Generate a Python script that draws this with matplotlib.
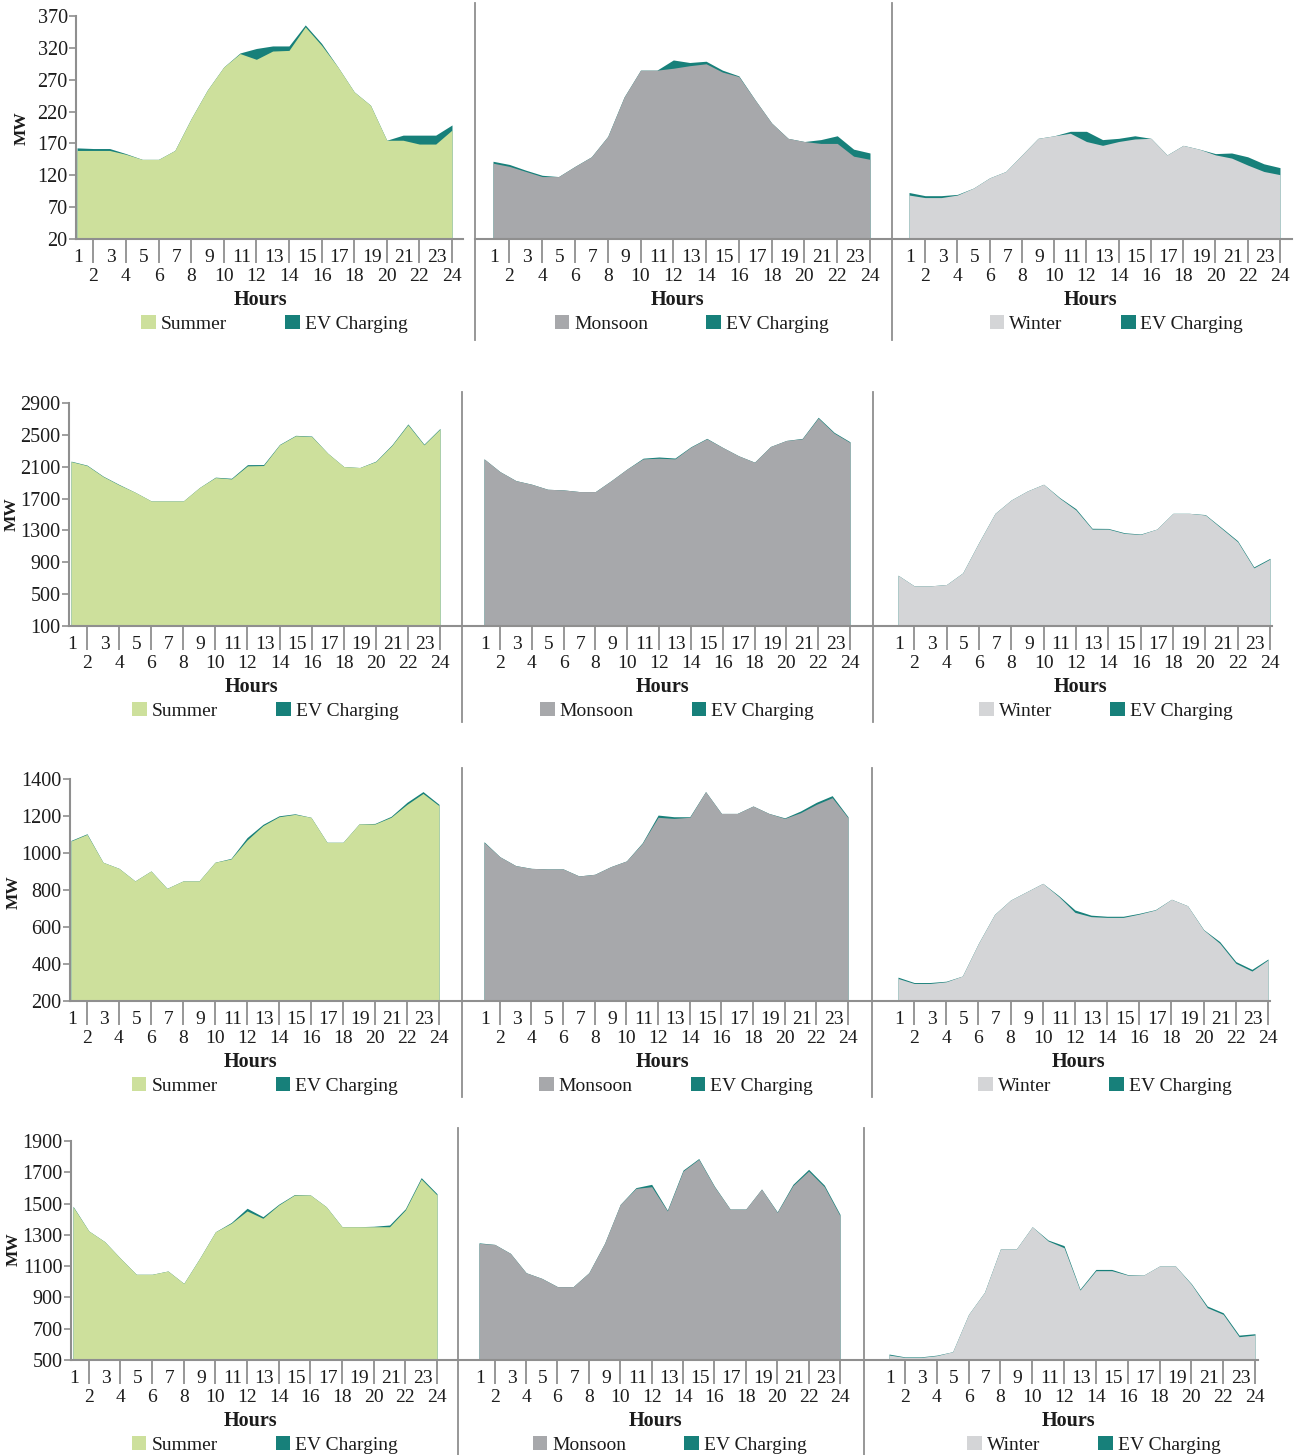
import numpy as np
import matplotlib
matplotlib.use("Agg")
import matplotlib.pyplot as plt
from matplotlib.patches import Patch
from matplotlib.lines import Line2D

# ---- data (MW per hour) ----
hours = list(range(1, 25))
seasons = ["Summer", "Monsoon", "Winter"]

# row 1
summer_1 = [159, 159, 159, 153, 145, 145, 159, 209, 254, 290, 311, 302, 315, 316, 353, 324, 290, 251, 230, 175, 175, 169, 169, 191]
summer_1_ev = [4, 3, 3, 1, 0, 0, 0, 0, 0, 0, 1, 17, 8, 7, 3, 3, 0, 0, 0, 0, 8, 14, 14, 8]
monsoon_1 = [139, 134, 126, 118, 118, 134, 149, 181, 243, 285, 285, 288, 292, 295, 282, 275, 238, 202, 178, 173, 170, 170, 150, 145]
monsoon_1_ev = [3, 3, 2, 2, 0, 0, 0, 0, 0, 0, 0, 13, 5, 4, 3, 1, 0, 0, 0, 0, 6, 12, 11, 10]
winter_1 = [89, 85, 85, 89, 100, 116, 126, 152, 178, 182, 186, 173, 167, 173, 177, 178, 152, 167, 161, 152, 147, 136, 126, 121]
winter_1_ev = [4, 3, 3, 1, 0, 0, 0, 0, 0, 0, 3, 16, 9, 5, 5, 0, 0, 0, 0, 2, 8, 13, 12, 11]
yticks_1 = [20, 70, 120, 170, 220, 270, 320, 370]

# row 2
summer_2 = [2165, 2115, 1977, 1872, 1779, 1670, 1670, 1670, 1838, 1964, 1947, 2111, 2115, 2375, 2489, 2480, 2270, 2102, 2090, 2165, 2367, 2627, 2375, 2573]
summer_2_ev = [5, 5, 5, 5, 0, 0, 0, 0, 0, 5, 8, 15, 12, 5, 5, 5, 0, 0, 0, 5, 8, 10, 8, 8]
monsoon_2 = [2199, 2039, 1926, 1880, 1817, 1809, 1788, 1788, 1926, 2073, 2199, 2207, 2199, 2346, 2451, 2342, 2237, 2157, 2354, 2430, 2451, 2711, 2522, 2405]
monsoon_2_ev = [0, 0, 0, 0, 0, 0, 0, 0, 0, 0, 8, 15, 10, 5, 5, 0, 0, 0, 0, 0, 5, 10, 10, 8]
winter_2 = [738, 604, 604, 621, 767, 1150, 1515, 1683, 1796, 1880, 1704, 1557, 1317, 1317, 1263, 1250, 1317, 1515, 1515, 1494, 1326, 1158, 830, 940]
winter_2_ev = [0, 0, 0, 0, 0, 0, 0, 0, 0, 0, 8, 15, 10, 8, 8, 5, 0, 0, 0, 5, 10, 12, 12, 10]
yticks_2 = [100, 500, 900, 1300, 1700, 2100, 2500, 2900]

# row 3
summer_3 = [1065, 1101, 950, 917, 849, 903, 809, 849, 849, 950, 968, 1070, 1148, 1196, 1209, 1193, 1058, 1058, 1157, 1157, 1193, 1263, 1322, 1256]
summer_3_ev = [3, 3, 0, 0, 0, 0, 0, 0, 0, 0, 3, 13, 7, 5, 3, 0, 0, 0, 0, 3, 5, 11, 10, 7]
monsoon_3 = [1058, 980, 932, 917, 914, 914, 876, 885, 926, 957, 1052, 1193, 1187, 1193, 1332, 1214, 1214, 1254, 1214, 1187, 1218, 1263, 1299, 1191]
monsoon_3_ev = [3, 0, 0, 0, 0, 0, 0, 0, 0, 0, 3, 12, 9, 3, 0, 0, 0, 0, 0, 3, 9, 11, 11, 5]
winter_3 = [322, 295, 295, 304, 335, 512, 668, 746, 791, 836, 764, 679, 656, 652, 652, 670, 692, 750, 715, 584, 512, 404, 362, 422]
winter_3_ev = [7, 5, 5, 3, 0, 0, 0, 0, 0, 0, 5, 13, 8, 6, 6, 4, 2, 0, 0, 2, 9, 9, 9, 5]
yticks_3 = [200, 400, 600, 800, 1000, 1200, 1400]

# row 4
summer_4 = [1480, 1325, 1257, 1150, 1048, 1048, 1069, 990, 1150, 1320, 1374, 1453, 1406, 1491, 1555, 1555, 1480, 1352, 1352, 1352, 1352, 1459, 1657, 1555]
summer_4_ev = [3, 0, 0, 0, 0, 0, 0, 0, 0, 0, 5, 17, 10, 5, 3, 0, 0, 0, 0, 3, 11, 8, 9, 8]
monsoon_4 = [1246, 1239, 1182, 1058, 1022, 969, 969, 1058, 1246, 1495, 1597, 1608, 1453, 1708, 1783, 1608, 1465, 1465, 1593, 1444, 1615, 1708, 1608, 1423]
monsoon_4_ev = [3, 0, 0, 0, 0, 0, 0, 0, 0, 0, 5, 15, 5, 6, 5, 3, 0, 0, 0, 3, 8, 11, 10, 8]
winter_4 = [532, 517, 517, 528, 553, 792, 933, 1210, 1210, 1352, 1261, 1218, 947, 1071, 1071, 1043, 1043, 1101, 1101, 984, 835, 792, 649, 660]
winter_4_ev = [6, 3, 3, 3, 0, 0, 0, 0, 0, 0, 6, 13, 6, 8, 8, 3, 0, 0, 0, 4, 10, 10, 10, 8]
yticks_4 = [500, 700, 900, 1100, 1300, 1500, 1700, 1900]

# ---- styles / layout (pixels) ----
W, H = 1306, 1455
COLORS = {"Summer": "#cde09c", "Monsoon": "#a7a8ab", "Winter": "#d4d5d7"}
TEAL = "#17807a"
GRAY = "#8f8f8f"
TXT = "#1c1c1c"
FONT = "Liberation Serif"
LEG_OFF = {"Summer": 10, "Monsoon": 10, "Winter": 22}

rows = [
    dict(series=[(summer_1, summer_1_ev), (monsoon_1, monsoon_1_ev), (winter_1, winter_1_ev)],
         yticks=yticks_1, top=16, bot=239,
         panels=[(76, 77, 452, 463), (475, 493, 870, 890), (892, 909, 1280, 1292)],
         seps=(475, 892), sep_y=(3, 340), mw=(22, 128)),
    dict(series=[(summer_2, summer_2_ev), (monsoon_2, monsoon_2_ev), (winter_2, winter_2_ev)],
         yticks=yticks_2, top=403, bot=626,
         panels=[(69, 71, 440, 462), (462, 484, 850, 873), (873, 898, 1270, 1272)],
         seps=(462, 873), sep_y=(392, 722), mw=(12, 514)),
    dict(series=[(summer_3, summer_3_ev), (monsoon_3, monsoon_3_ev), (winter_3, winter_3_ev)],
         yticks=yticks_3, top=779, bot=1001,
         panels=[(70, 71, 439, 462), (462, 484, 848, 872), (872, 898, 1268, 1270)],
         seps=(462, 872), sep_y=(768, 1097), mw=(14, 892)),
    dict(series=[(summer_4, summer_4_ev), (monsoon_4, monsoon_4_ev), (winter_4, winter_4_ev)],
         yticks=yticks_4, top=1141, bot=1360,
         panels=[(71, 73, 437, 458), (458, 479, 840, 864), (864, 889, 1255, 1258)],
         seps=(458, 864), sep_y=(1128, 1455), mw=(14, 1249)),
]

plt.rcParams["font.family"] = [FONT, "DejaVu Serif"]
fig = plt.figure(figsize=(W / 100, H / 100), dpi=100)


def px_x(x):
    return x / W


def px_y(y):
    return 1 - y / H


for row in rows:
    ymin, ymax = row["yticks"][0], row["yticks"][-1]
    for col, (season, (base, ev), (xl, xh1, xh24, xr)) in enumerate(zip(seasons, row["series"], row["panels"])):
        ax = fig.add_axes([px_x(xl), px_y(row["bot"]), (xr - xl) / W, (row["bot"] - row["top"]) / H])
        step = (xh24 - xh1) / 23
        ax.set_xlim(1 - (xh1 - xl) / step, 24 + (xr - xh24) / step)
        ax.set_ylim(ymin, ymax)

        # EV charging drawn behind the seasonal load, so only the extra shows
        total = np.add(base, ev)
        ax.fill_between(hours, ymin, total, color=TEAL, lw=0)
        ax.fill_between(hours, ymin, base, color=COLORS[season], lw=0)

        for s in ["top", "right"]:
            ax.spines[s].set_visible(False)
        ax.spines["bottom"].set_color(GRAY)
        ax.spines["bottom"].set_linewidth(1.5)
        ax.spines["bottom"].set_zorder(5)

        ax.set_xticks(range(2, 25, 2))
        ax.tick_params(axis="x", length=17, width=1.3, color=GRAY, labelbottom=False)
        for h in hours:
            dy = -13 if h % 2 else -27
            ax.annotate(str(h), xy=(h, 0), xycoords=("data", "axes fraction"),
                        xytext=(1 if h % 2 else 0, dy), textcoords="offset points",
                        ha="center", va="center", fontsize=14, color=TXT,
                        annotation_clip=False)

        if col == 0:
            ax.spines["left"].set_color(GRAY)
            ax.spines["left"].set_linewidth(1.5)
            ax.set_yticks(row["yticks"])
            ax.tick_params(axis="y", length=5, width=1.2, color=GRAY, labelsize=14.5,
                           labelcolor=TXT, pad=1)
        else:
            ax.spines["left"].set_visible(False)
            ax.set_yticks([])

        # Hours label and legend below each panel
        xc = (xh1 + xh24) / 2
        fig.text(px_x(xc - 4), px_y(row["bot"] + 61), "Hours", ha="center", va="center",
                 fontsize=14.5, fontweight="bold", color=TXT)
        handles = [Patch(facecolor=COLORS[season], edgecolor="none", label=season),
                   Patch(facecolor=TEAL, edgecolor="none", label="EV Charging")]
        fig.legend(handles=handles, loc="center",
                   bbox_to_anchor=(px_x(xc + LEG_OFF[season]), px_y(row["bot"] + 85)),
                   ncol=2, frameon=False, fontsize=14, handlelength=0.75, handleheight=0.75,
                   handletextpad=0.25, columnspacing=3.0, borderpad=0, labelcolor=TXT)

    # separators between panels
    for sx in row["seps"]:
        fig.add_artist(Line2D([px_x(sx), px_x(sx)], [px_y(row["sep_y"][0]), px_y(row["sep_y"][1])],
                              color=GRAY, lw=1.3))
    fig.text(px_x(row["mw"][0]), px_y(row["mw"][1]), "MW", rotation=90, ha="center", va="center",
             fontsize=12.5, fontweight="bold", color=TXT)

fig.savefig("out.png", dpi=100, facecolor="white")
